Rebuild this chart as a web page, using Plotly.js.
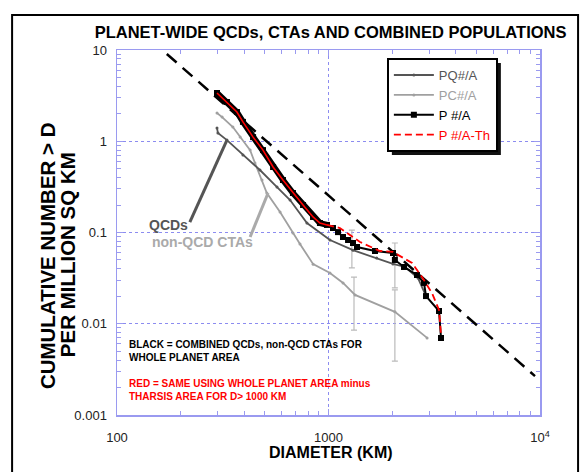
<!DOCTYPE html>
<html><head><meta charset="utf-8">
<script src="https://cdn.plot.ly/plotly-3.0.1.min.js"></script>
<style>html,body{margin:0;padding:0;background:#fff}#chart{width:581px;height:472px}</style>
</head><body><div id="chart"></div>
<script>
// Reference slope line (dashed)
const refD = [172, 9470];
const refN = [9.04, 0.00267];

// PQ#/A  (QCDs)
const pqD = [297, 300, 331, 394, 474, 571, 658, 791, 1016, 1306, 1690, 2018, 2300, 2650, 2891];
const pqN = [1.40, 1.23, 1.03, 0.707, 0.484, 0.315, 0.227, 0.127, 0.0828, 0.064, 0.0526, 0.0452, 0.0419, 0.0317, 0.0201];

// PC#/A  (non-QCD CTAs)
const pcD = [297, 314, 353, 382, 426, 449, 485, 511, 590, 679, 733, 846, 1016, 1172, 1335, 2060, 2925];
const pcN = [2.04, 1.84, 1.43, 1.11, 0.80, 0.578, 0.376, 0.271, 0.168, 0.0989, 0.0748, 0.045, 0.036, 0.028, 0.0207, 0.0135, 0.0070];

// P #/A  (combined)
const pD = [297, 331, 369, 394, 440, 490, 547, 609, 679, 758, 845, 911, 984, 1050, 1109, 1171, 1237, 1306, 1364, 1659, 2018, 2060, 2275, 2620, 2828, 2891, 3331, 3404];
const pN = [3.38, 2.69, 2.09, 1.63, 1.11, 0.80, 0.522, 0.376, 0.271, 0.200, 0.148, 0.127, 0.121, 0.112, 0.101, 0.0893, 0.0828, 0.0767, 0.0694, 0.0627, 0.0596, 0.050, 0.0419, 0.0342, 0.0280, 0.0201, 0.0138, 0.00698];

// P #/A-Th (minus Tharsis area for D > 1000 km)
const thD = [297, 331, 369, 394, 440, 490, 547, 609, 679, 758, 845, 911, 984, 1132, 1409, 1750, 2018, 2484, 2768, 3085, 3331, 3404];
const thN = [3.38, 2.69, 2.09, 1.63, 1.11, 0.80, 0.522, 0.376, 0.271, 0.200, 0.148, 0.127, 0.121, 0.112, 0.0787, 0.0627, 0.0612, 0.0463, 0.0325, 0.0217, 0.0142, 0.0075];

// Error bars
const ebQD = [1290, 2060]; const ebQN = [0.0735, 0.0507]; const ebQE = [0.0325, 0.026];
const ebCD = [1320, 2060]; const ebCN = [0.0205, 0.0137]; const ebCE = [0.012, 0.0098];

// Tick labels
const xTickVals = [100, 1000, 10000];
const xTickText = ['100', '1000', '10<sup>4</sup>'];
const yTickVals = [0.001, 0.01, 0.1, 1, 10];
const yTickText = ['0.001', '0.01', '0.1', '1', '10'];

const FONT = 'Liberation Sans, Arial, sans-serif';
function minorVals(lo, hi) { const v = []; for (let e = lo; e < hi; e++) for (let m = 2; m <= 9; m++) v.push(m * Math.pow(10, e)); return v; }
const split = thD.findIndex(d => d >= 984);
const lowIdx = pD.map((d, i) => i).filter(i => pD[i] <= 1000);

const traces = [
  {x: refD, y: refN, mode: 'lines', line: {color: '#000', width: 2.5, dash: '13px,8px'}, showlegend: false, hoverinfo: 'skip'},
  {x: ebQD, y: ebQN, mode: 'markers', marker: {size: 1, color: 'rgba(0,0,0,0)'}, error_y: {type: 'data', array: ebQE, color: '#bbbbbb', thickness: 1.2, width: 3}, showlegend: false},
  {x: ebCD, y: ebCN, mode: 'markers', marker: {size: 1, color: 'rgba(0,0,0,0)'}, error_y: {type: 'data', array: ebCE, color: '#bbbbbb', thickness: 1.2, width: 3}, showlegend: false},
  {x: pcD, y: pcN, mode: 'lines+markers', name: '<span style="color:#a0a0a0">PC#/A</span>', line: {color: '#a0a0a0', width: 1.8}, marker: {size: 3, color: '#a0a0a0'}, legendrank: 2},
  {x: pqD, y: pqN, mode: 'lines+markers', name: '<span style="color:#555555">PQ#/A</span>', line: {color: '#555555', width: 1.8}, marker: {size: 3, color: '#555555'}, legendrank: 1},
  {x: lowIdx.map(i => pD[i]), y: lowIdx.map(i => pN[i]), mode: 'lines', line: {color: '#000', width: 6}, showlegend: false},
  {x: pD, y: pN, mode: 'lines+markers', name: 'P #/A', line: {color: '#000', width: 2}, marker: {symbol: 'square', size: 6, color: '#000'}, legendrank: 3},
  {x: thD.slice(0, split + 1), y: thN.slice(0, split + 1), mode: 'lines', line: {color: '#ff0000', width: 1.6}, showlegend: false},
  {x: thD.slice(split), y: thN.slice(split), mode: 'lines', name: '<span style="color:#ff0000">P #/A-Th</span>', line: {color: '#ff0000', width: 1.8, dash: '7px,4px'}, legendrank: 4}
];

const axisCommon = {
  type: 'log', showline: true, linecolor: '#9a9af0', linewidth: 1.5, mirror: 'ticks',
  ticks: 'inside', ticklen: 6, tickcolor: '#9a9af0', tickwidth: 1,
  showgrid: true, gridcolor: '#8c8cf0', griddash: 'dot', gridwidth: 1.2,
  zeroline: false, tickfont: {family: FONT, size: 13, color: '#222'}
};

const PL = 117, PT = 50, PW = 423, PH = 365;
const layout = {
  width: 581, height: 472,
  margin: {l: PL, r: 41, t: PT, b: 57},
  paper_bgcolor: '#fff', plot_bgcolor: '#fff',
  font: {family: FONT},
  title: {text: '<b>PLANET-WIDE QCDs, CTAs AND COMBINED POPULATIONS</b>', font: {family: FONT, size: 16.5, color: '#000'}, x: 0.569, xref: 'container', xanchor: 'center', y: 0.932, yanchor: 'middle'},
  xaxis: Object.assign({}, axisCommon, {range: [2, 4], tickmode: 'array', tickvals: xTickVals, ticktext: xTickText, ticklabelstandoff: 10,
    minor: {tickmode: 'array', tickvals: minorVals(2, 4), ticks: 'inside', ticklen: 4, tickcolor: '#9a9af0', showgrid: false}}),
  yaxis: Object.assign({}, axisCommon, {range: [-3, 1], tickmode: 'array', tickvals: yTickVals, ticktext: yTickText, ticklabelstandoff: 6,
    minor: {tickmode: 'array', tickvals: minorVals(-3, 1), ticks: 'inside', ticklen: 4, tickcolor: '#9a9af0', showgrid: false}}),
  showlegend: true,
  legend: {x: 0.638, y: 0.978, xanchor: 'left', yanchor: 'top', bgcolor: '#fff', bordercolor: '#000', borderwidth: 2,
    font: {family: FONT, size: 13, color: '#000'}, itemwidth: 40, tracegroupgap: 0, traceorder: 'normal'},
  shapes: [
    {type: 'rect', xref: 'paper', yref: 'paper', x0: -0.248, x1: 1.090, y0: -0.3, y1: 1.096, line: {color: '#000', width: 2}, layer: 'below'},
    {type: 'line', xref: 'x', yref: 'y', x0: 221, y0: 0.130, x1: 331, y1: 1.03, line: {color: '#555555', width: 3}},
    {type: 'line', xref: 'x', yref: 'y', x0: 426, y0: 0.0893, x1: 518, y1: 0.271, line: {color: '#aaaaaa', width: 3}}
  ],
  annotations: [
    {xref: 'x', yref: 'y', x: 2.345, y: -0.918, xanchor: 'right', yanchor: 'middle', showarrow: false, text: '<b>QCDs</b>', font: {family: FONT, size: 14, color: '#555555'}},
    {xref: 'x', yref: 'y', x: 2.156, y: -1.104, xanchor: 'left', yanchor: 'middle', showarrow: false, text: '<b>non-QCD CTAs</b>', font: {family: FONT, size: 14, color: '#aaaaaa'}},
    {xref: 'paper', yref: 'paper', x: 0.024, y: 0.174, xanchor: 'left', yanchor: 'middle', align: 'left', showarrow: false, text: '<b>BLACK = COMBINED QCDs, non-QCD CTAs FOR<br>WHOLE PLANET AREA</b>', font: {family: FONT, size: 10, color: '#000'}},
    {xref: 'paper', yref: 'paper', x: 0.024, y: 0.068, xanchor: 'left', yanchor: 'middle', align: 'left', showarrow: false, text: '<b>RED = SAME USING WHOLE PLANET AREA minus<br>THARSIS AREA FOR D&gt; 1000 KM</b>', font: {family: FONT, size: 10, color: '#ff0000'}},
    {xref: 'paper', yref: 'paper', x: -0.1655, y: 0.438, xanchor: 'center', yanchor: 'middle', textangle: -90, showarrow: false, text: '<b>CUMULATIVE NUMBER &gt; D</b>', font: {family: FONT, size: 20.5, color: '#000'}},
    {xref: 'paper', yref: 'paper', x: -0.118, y: 0.438, xanchor: 'center', yanchor: 'middle', textangle: -90, showarrow: false, text: '<b>PER MILLION SQ KM</b>', font: {family: FONT, size: 20.5, color: '#000'}},
    {xref: 'paper', yref: 'paper', x: 0.506, y: -0.104, xanchor: 'center', yanchor: 'middle', showarrow: false, text: '<b>DIAMETER (KM)</b>', font: {family: FONT, size: 16, color: '#000'}}
  ]
};

const gd = document.getElementById('chart');
Plotly.newPlot(gd, traces, layout, {displayModeBar: false, staticPlot: true}).then(function () {
  const bg = gd.querySelector('.legend .bg');
  if (!bg) return;
  const r = bg.getBoundingClientRect();
  const c = gd.getBoundingClientRect();
  const off = 4;
  const x0 = (r.left - c.left + off - PL) / PW, x1 = (r.right - c.left + off - PL) / PW;
  const y1 = (PT + PH - (r.top - c.top + off)) / PH, y0 = (PT + PH - (r.bottom - c.top + off)) / PH;
  const shapes = layout.shapes.concat([{type: 'rect', xref: 'paper', yref: 'paper', x0: x0, x1: x1, y0: y0, y1: y1, fillcolor: '#111', line: {width: 0}, layer: 'above'}]);
  return Plotly.relayout(gd, {shapes: shapes});
});
</script>
</body></html>
